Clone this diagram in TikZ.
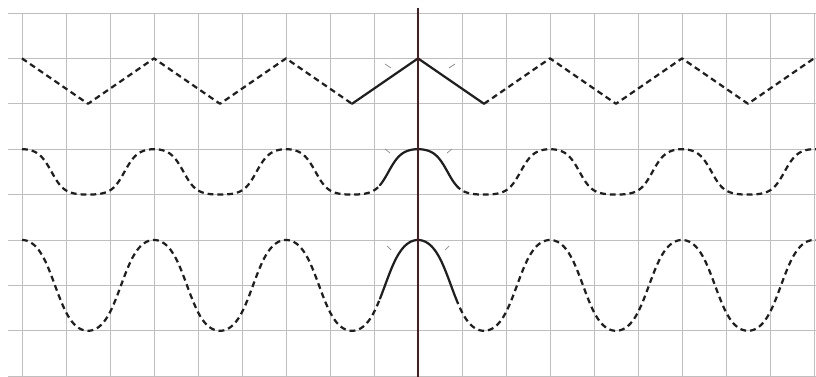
\documentclass[tikz,border=0pt]{standalone}
\begin{document}
\begin{tikzpicture}[x=0.03cm,y=-0.03cm,
  declare function={
    sh(\t,\k,\b)=(tanh(\k*(cos(\t)-\b))-tanh(\k*(-1-\b)))/(tanh(\k*(1-\b))-tanh(\k*(-1-\b)))*2-1;
  }]
\tikzset{
  gridline/.style={draw=black!25,line width=0.6pt},
  wave/.style={line width=1.9pt,draw=black!88,line join=round,line cap=round},
  dwave/.style={wave,line cap=butt,dash pattern=on 5pt off 3.4pt},
  axisline/.style={draw={rgb,255:red,80;green,28;blue,28},line width=1.7pt},
  tickmark/.style={draw=black!45,line width=0.6pt}
}
\fill[white] (0,0) rectangle (816,377);
\useasboundingbox (0,0) rectangle (816,377);
% grid
\foreach \k in {0,...,18}{\draw[gridline] (22+44*\k,13) -- (22+44*\k,377);}
\foreach \k in {0,...,8}{\draw[gridline] (8,13+45.4*\k) -- (816,13+45.4*\k);}
% row 1: triangle wave
\draw[dwave] (22,58.4) -- (88,103.8) -- (154,58.4) -- (220,103.8) -- (286,58.4) -- (352,103.8);
\draw[wave] (352,103.8) -- (418,58.4) -- (484,103.8);
\draw[dwave] (484,103.8) -- (550,58.4) -- (616,103.8) -- (682,58.4) -- (748,103.8) -- (814,58.4);
% row 2
\draw[dwave] plot[domain=22:380,samples=240,smooth] (\x,{171.9-22.7*sh((\x-22)/132*360,1.5,0.2)});
\draw[wave] plot[domain=380:456,samples=60,smooth] (\x,{171.9-22.7*sh((\x-22)/132*360,1.5,0.2)});
\draw[dwave] plot[domain=456:816,samples=240,smooth] (\x,{171.9-22.7*sh((\x-22)/132*360,1.5,0.2)});
% row 3
\draw[dwave] plot[domain=22:380,samples=240,smooth] (\x,{285.4-45.4*sh((\x-22)/132*360,0.9,0)});
\draw[wave] plot[domain=380:456,samples=60,smooth] (\x,{285.4-45.4*sh((\x-22)/132*360,0.9,0)});
\draw[dwave] plot[domain=456:816,samples=240,smooth] (\x,{285.4-45.4*sh((\x-22)/132*360,0.9,0)});
% faint tick marks near the central peaks
\draw[tickmark] (385,64) -- (391,68);
\draw[tickmark] (449,68) -- (455,64);
\draw[tickmark] (385,149) -- (390,153);
\draw[tickmark] (447,153) -- (452,149);
\draw[tickmark] (387,246) -- (391,250);
\draw[tickmark] (445,250) -- (449,246);
% central axis
\draw[axisline] (418,8) -- (418,377);
\end{tikzpicture}
\end{document}
